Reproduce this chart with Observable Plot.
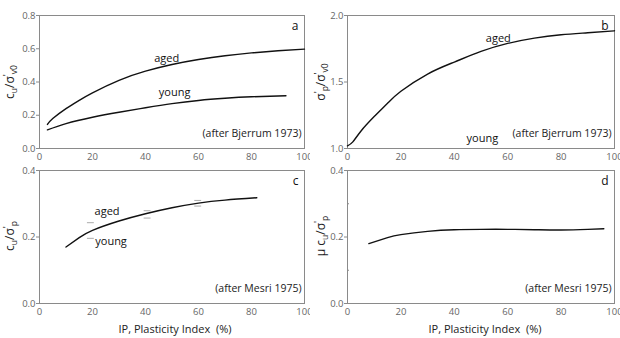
<!DOCTYPE html>
<html><head><meta charset="utf-8">
<script src="https://cdn.jsdelivr.net/npm/d3@7"></script>
<script src="https://cdn.jsdelivr.net/npm/@observablehq/plot@0.6"></script>
<style>
body{margin:0;background:#fff;font-family:"Open Sans",sans-serif;}
#wrap{position:relative;width:620px;height:338px;overflow:hidden;background:#fff;}
#wrap svg{position:absolute;}
</style></head><body><div id="wrap"></div>
<script>
// Panel a (after Bjerrum 1973)
const ipAged_a = [3,5,10,15,20,30,40,50,60,70,80,90,100];
const aged_a = [0.145,0.18,0.24,0.29,0.335,0.41,0.465,0.505,0.535,0.558,0.575,0.588,0.598];
const ipYoung_a = [3,10,20,30,40,50,60,70,80,93];
const young_a = [0.112,0.15,0.188,0.218,0.245,0.27,0.289,0.302,0.311,0.317];
// Panel b
const ip_b = [0,2,5,10,15,20,30,40,50,60,70,80,90,100];
const aged_b = [1.02,1.05,1.13,1.24,1.34,1.43,1.56,1.65,1.73,1.79,1.83,1.855,1.87,1.885];
// Panel c (after Mesri 1975)
const ip_c = [10,15,20,30,40,50,60,70,82];
const val_c = [0.17,0.198,0.22,0.248,0.27,0.288,0.302,0.311,0.318];
const dashIp_c = [19.2,19.2,40.6,40.6,59.7,59.7];
const dashV_c = [0.243,0.196,0.279,0.257,0.31,0.293];
// Panel d
const ip_d = [8,15,20,30,40,50,60,70,80,90,96];
const val_d = [0.18,0.198,0.207,0.217,0.222,0.223,0.223,0.222,0.221,0.223,0.225];
// tick values
const xTicks = [0,20,40,60,80,100];
const yTicks_a = [0,0.2,0.4,0.6,0.8];
const yTicks_b = [1.0,1.5,2.0];
const yTicks_cd = [0,0.2,0.4];
const yMinor_cd = [0.1,0.3];

const pts = (xs, ys) => xs.map((x,i)=>({x, y: ys[i]}));
const wrap = document.getElementById("wrap");
const gray = "#8a8a8a", tickCol = "#666";

function panel({left, top, height, mt, mb, ml, mr, ydom, yticks, ylabelFmt, marks, letter, source, minor}) {
  const p = Plot.plot({
    width: 310, height,
    marginTop: mt, marginBottom: mb, marginLeft: ml, marginRight: mr,
    style: {fontFamily: "Open Sans, sans-serif", fontSize: "9.5px", background: "transparent", overflow: "hidden"},
    x: {domain: [0,100]},
    y: {domain: ydom},
    marks: [
      Plot.axisX({ticks: xTicks, tickSize: 0, tickPadding: 5, label: null, color: tickCol, fontSize: 9.5}),
      Plot.axisY({ticks: yticks, tickSize: 3, tickPadding: 1, label: null, tickFormat: ylabelFmt, color: tickCol, stroke: gray, fontSize: 9.5}),
      ...(minor ? [Plot.axisY({ticks: minor, tickSize: -2, label: null, tickFormat: () => "", stroke: gray})] : []),
      Plot.frame({stroke: gray, strokeWidth: 1}),
      ...marks,
      Plot.text([letter], {frameAnchor: "top-right", dx: -6, dy: 6, fontSize: 12, fill: "#111", fontFamily: "Open Sans, sans-serif"}),
      Plot.text([source], {frameAnchor: "bottom-right", dx: -3, dy: -12, fontSize: 10.5, fill: "#222", fontFamily: "Open Sans, sans-serif"})
    ]
  });
  p.style.left = left + "px";
  p.style.top = top + "px";
  p.style.background = "transparent";
  p.style.overflow = "hidden";
  wrap.appendChild(p);
  return p;
}

function ylab(svg, parts, x, y) {
  const t = d3.select(svg).append("text")
    .attr("transform", `translate(${x},${y}) rotate(-90)`)
    .attr("text-anchor", "middle")
    .attr("font-family", "Open Sans, sans-serif")
    .attr("font-size", 12)
    .attr("fill", "#222");
  for (const [s, k] of parts) {
    const ts = t.append("tspan").text(s);
    if (k === "sub") ts.attr("font-size", 8.5).attr("baseline-shift", "-3");
    else if (k === "sup") ts.attr("font-size", 9).attr("baseline-shift", "4");
  }
}

function xlab(svg, x, y) {
  d3.select(svg).append("text").attr("x", x).attr("y", y).attr("text-anchor", "middle")
    .attr("font-family", "Open Sans, sans-serif").attr("font-size", 11).attr("fill", "#222")
    .text("IP, Plasticity Index  (%)");
}

const lineOpts = {x: "x", y: "y", stroke: "#111", strokeWidth: 1.4, curve: "natural"};
const lab = (arr, opts={}) => Plot.text(arr, {x: "x", y: "y", text: "t", fontSize: 11, fill: "#111", fontFamily: "Open Sans, sans-serif", ...opts});

const pa = panel({left: 0, top: 0, height: 165, mt: 15, mb: 17, ml: 39, mr: 6,
  ydom: [0,0.8], yticks: yTicks_a, ylabelFmt: d3.format(".1f"), letter: "a", source: "(after Bjerrum 1973)",
  marks: [
    Plot.line(pts(ipAged_a, aged_a), lineOpts),
    Plot.line(pts(ipYoung_a, young_a), lineOpts),
    lab([{x: 48, y: 0.54, t: "aged"}, {x: 51, y: 0.34, t: "young"}])
  ]});
ylab(pa, [["c",""],["u","sub"],["/σ",""],["'","sup"],["v0","sub"]], 14, 82);

const pb = panel({left: 310, top: 0, height: 165, mt: 15, mb: 17, ml: 37, mr: 6,
  ydom: [1,2], yticks: yTicks_b, ylabelFmt: d3.format(".1f"), letter: "b", source: "(after Bjerrum 1973)",
  marks: [
    Plot.line(pts(ip_b, aged_b), lineOpts),
    lab([{x: 56.5, y: 1.83, t: "aged"}, {x: 50.5, y: 1.075, t: "young"}])
  ]});
ylab(pb, [["σ",""],["'","sup"],["p","sub"],["/σ",""],["'","sup"],["v0","sub"]], 15, 82);

const pc = panel({left: 0, top: 155, height: 183, mt: 15, mb: 35, ml: 39, mr: 6,
  ydom: [0,0.4], yticks: yTicks_cd, ylabelFmt: d3.format(".1f"), letter: "c", source: "(after Mesri 1975)",
  marks: [
    Plot.link(pts(dashIp_c, dashV_c), {x1: d => d.x - 1.3, x2: d => d.x + 1.3, y1: "y", y2: "y", stroke: "#aaa", strokeWidth: 1}),
    Plot.line(pts(ip_c, val_c), lineOpts),
    lab([{x: 25.5, y: 0.276, t: "aged"}, {x: 27, y: 0.186, t: "young"}])
  ]});
ylab(pc, [["c",""],["u","sub"],["/σ",""],["'","sup"],["p","sub"]], 14, 81);
xlab(pc, 175, 178);

const pd = panel({left: 310, top: 155, height: 183, mt: 15, mb: 35, ml: 37, mr: 6,
  ydom: [0,0.4], yticks: yTicks_cd, ylabelFmt: d3.format(".1f"), letter: "d", source: "(after Mesri 1975)", minor: yMinor_cd,
  marks: [
    Plot.line(pts(ip_d, val_d), lineOpts)
  ]});
ylab(pd, [["μ c",""],["u","sub"],["/σ",""],["'","sup"],["p","sub"]], 15, 81);
xlab(pd, 175, 178);
</script></body></html>
